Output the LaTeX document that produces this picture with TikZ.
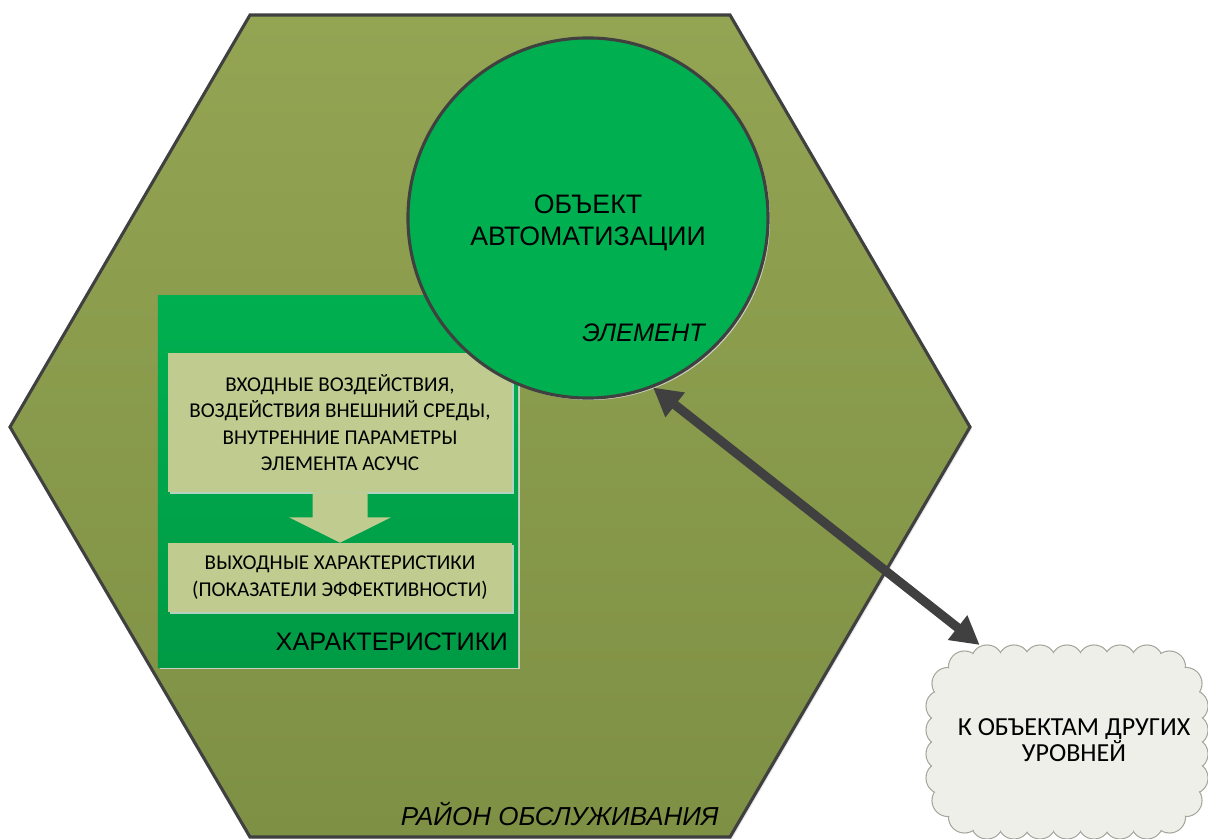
\documentclass[tikz,border=0pt]{standalone}
\usepackage{fontspec}
\setmainfont{Liberation Sans}
\newfontfamily\calibri{Carlito}
\usetikzlibrary{arrows.meta, shadows, calc}

\definecolor{olivetop}{HTML}{93A453}
\definecolor{olivebot}{HTML}{7E9044}
\definecolor{edge}{HTML}{404040}
\definecolor{grn}{HTML}{00AF50}
\definecolor{grndark}{HTML}{009A45}
\definecolor{pale}{HTML}{BFCB8F}
\definecolor{cloudfill}{HTML}{EEEFE8}
\definecolor{cloudedge}{HTML}{A6A69E}

\begin{document}
\begin{tikzpicture}[x=0.025cm, y=-0.025cm,
  castshadow/.style={drop shadow={shadow xshift=1.4pt, shadow yshift=-1.4pt, fill=white!75!gray, opacity=.8}},
  hexa/.style={draw=edge, line width=2.2pt, top color=olivetop, bottom color=olivebot, castshadow},
  elem/.style={circle, draw=edge, line width=2.2pt, fill=grn, minimum size=9cm, inner sep=0pt, castshadow},
  panel/.style={rectangle, top color=grn, bottom color=grndark, minimum width=9cm, minimum height=9.275cm, castshadow},
  card/.style={rectangle, fill=pale, minimum width=8.6cm, align=center, font=\calibri\fontsize{15}{18.9}\selectfont, castshadow},
  flow/.style={fill=pale},
  big/.style={font=\fontsize{18}{23}\selectfont},
  itlabel/.style={font=\itshape\fontsize{18.5}{23}\selectfont, inner sep=0pt},
  dbl/.style={{Triangle[length=20pt, width=21pt]}-{Triangle[length=20pt, width=21pt]}, line width=6.5pt, draw=edge},
  puffzone/.style={rectangle, inner sep=0pt, outer sep=0pt, minimum width=7.05cm, minimum height=4.85cm},
  puffline/.style={draw=cloudedge, fill=cloudfill, line width=0.8pt}]

  \useasboundingbox (0,0) rectangle (1208,839);

  % service area
  \draw[hexa] (250,15) -- (730,15) -- (970,427) -- (730,837) -- (250,837) -- (10,427) -- cycle;
  \node[itlabel, anchor=base east] (area) at (719,825) {РАЙОН ОБСЛУЖИВАНИЯ};

  % characteristics panel
  \node[panel] (chars) at (338,481.5) {};
  \node[card, minimum height=3.475cm] (inp) at (340,422.5) {ВХОДНЫЕ ВОЗДЕЙСТВИЯ,\\ВОЗДЕЙСТВИЯ ВНЕШНИЙ СРЕДЫ,\\ВНУТРЕННИЕ ПАРАМЕТРЫ\\ЭЛЕМЕНТА АСУЧС};
  \node[card, minimum height=1.725cm] (outp) at (340,577.5) {ВЫХОДНЫЕ ХАРАКТЕРИСТИКИ\\(ПОКАЗАТЕЛИ ЭФФЕКТИВНОСТИ)};
  \fill[flow] ($(inp.south)+(-27.5,0)$) -- ++(0,25) -- ++(-23.5,0) -- (outp.north)
    -- ($(inp.south)+(51,25)$) -- ++(-23.5,0) -- ($(inp.south)+(27.5,0)$) -- cycle;
  \node[big, anchor=base east, inner sep=0pt] (charlbl) at (508,650) {ХАРАКТЕРИСТИКИ};

  % element
  \node[elem] (obj) at (588,218) {};
  \node[big, font=\fontsize{19}{23}\selectfont, align=center] (objtxt) at (588,223) {ОБЪЕКТ\\АВТОМАТИЗАЦИИ};
  \node[itlabel, font=\itshape\fontsize{18}{23}\selectfont, anchor=base east] (elemlbl) at (705,342) {ЭЛЕМЕНТ};

  % cloud: ring of puffs, inner strokes covered afterwards
  \node[puffzone] (others) at (1067,742) {};
  \def\puffs{-80/-81,-53/-81,-27/-81,0/-81,27/-81,53/-81,80/-81,102.5/-75,119/-58.5,
    125/-36,125/-12,125/12,125/36,119/58.5,102.5/75,
    80/81,53/81,27/81,0/81,-27/81,-53/81,-80/81,-102.5/75,-119/58.5,
    -125/36,-125/12,-125/-12,-125/-36,-119/-58.5,-102.5/-75}
  \foreach \cx/\cy in \puffs
    \draw[puffline] ($(others.center)+(\cx,\cy)$) circle (0.4cm);
  \foreach \cx/\cy in \puffs
    \fill[cloudfill] ($(others.center)+(\cx,\cy)$) circle (0.38cm);
  \fill[cloudfill, rounded corners=1.125cm] ($(others.center)+(-125,-81)$) rectangle ($(others.center)+(125,81)$);
  \node[align=center, font=\calibri\fontsize{18.5}{17.5}\selectfont] (otherstxt) at (1074,740) {К ОБЪЕКТАМ ДРУГИХ\\УРОВНЕЙ};

  % link to other levels
  \draw[dbl] (obj.-69) -- (others.132);
\end{tikzpicture}
\end{document}
